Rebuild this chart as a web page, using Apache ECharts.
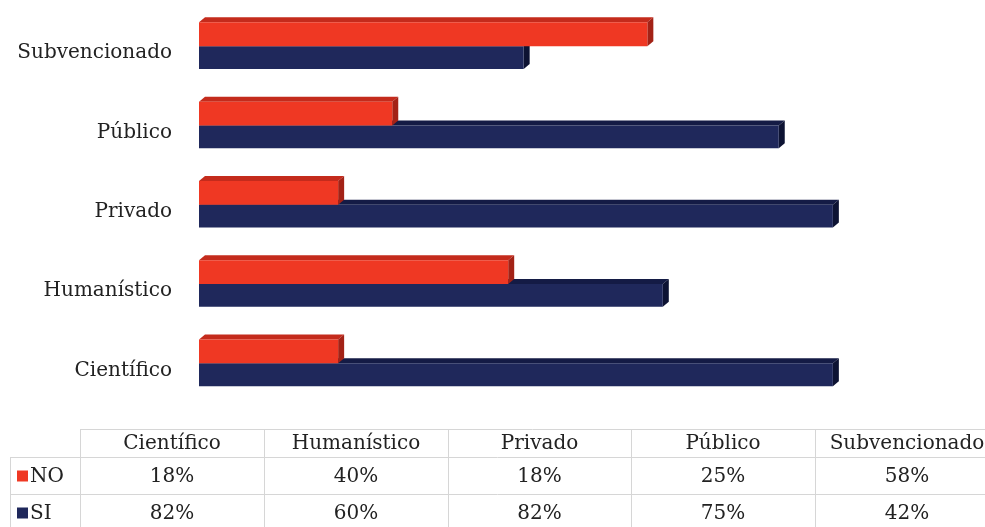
<!DOCTYPE html>
<html>
<head>
<meta charset="utf-8">
<script src="https://cdn.jsdelivr.net/npm/echarts@6/dist/echarts.min.js"></script>
<style>
html,body{margin:0;padding:0;background:#fff;}
#main{width:985px;height:527px;}
</style>
</head>
<body>
<div id="main"></div>
<script>
const categories = ['Científico', 'Humanístico', 'Privado', 'Público', 'Subvencionado'];
const noValues = [18, 40, 18, 25, 58];
const siValues = [82, 60, 82, 75, 42];
const seriesNames = ['NO', 'SI'];

const FONT = '"DejaVu Serif", serif';
const TXT = '#222222';
const colors = {
  NO: { front: '#EF3823', top: '#C42B1C', side: '#A32216' },
  SI: { front: '#1F285B', top: '#141B45', side: '#0D1333' }
};

function makeRender(name, upper) {
  const c = colors[name];
  return function (params, api) {
    const val = api.value(0);
    const cat = api.value(1);
    const p0 = api.coord([0, cat]);
    const p1 = api.coord([val, cat]);
    const band = api.size([0, 1])[1];
    const t = band * 0.3;
    const dx = 6, dy = 5;
    const x0 = p0[0], x1 = p1[0];
    let y0, y1;
    if (upper) { y0 = p0[1] - t; y1 = p0[1]; }
    else { y0 = p0[1]; y1 = p0[1] + t - 1; }
    return {
      type: 'group',
      children: [
        { type: 'polygon', shape: { points: [[x0, y0], [x0 + dx, y0 - dy], [x1 + dx, y0 - dy], [x1, y0]] }, style: { fill: c.top } },
        { type: 'polygon', shape: { points: [[x1, y0], [x1 + dx, y0 - dy], [x1 + dx, y1 - dy], [x1, y1]] }, style: { fill: c.side } },
        { type: 'rect', shape: { x: x0, y: y0, width: x1 - x0, height: y1 - y0 }, style: { fill: c.front } }
      ]
    };
  };
}

// Table built from the arrays
const colX = [80, 264, 448, 631, 815, 999];
const rowY = [429, 457, 494, 531];
const graphic = [];
const lineStyle = { stroke: '#d6d6d6', lineWidth: 1 };
graphic.push({ type: 'line', shape: { x1: 80, y1: rowY[0] + 0.5, x2: 985, y2: rowY[0] + 0.5 }, style: lineStyle });
graphic.push({ type: 'line', shape: { x1: 10, y1: rowY[1] + 0.5, x2: 985, y2: rowY[1] + 0.5 }, style: lineStyle });
graphic.push({ type: 'line', shape: { x1: 10, y1: rowY[2] + 0.5, x2: 985, y2: rowY[2] + 0.5 }, style: lineStyle });
graphic.push({ type: 'line', shape: { x1: 10.5, y1: rowY[1], x2: 10.5, y2: 527 }, style: lineStyle });
colX.forEach(function (x) {
  graphic.push({ type: 'line', shape: { x1: x + 0.5, y1: rowY[0], x2: x + 0.5, y2: 527 }, style: lineStyle });
});
categories.forEach(function (cat, i) {
  const cx = (colX[i] + colX[i + 1]) / 2;
  graphic.push({ type: 'text', style: { text: cat, x: cx, y: (rowY[0] + rowY[1]) / 2 + 1, align: 'center', verticalAlign: 'middle', font: '20px ' + FONT, fill: TXT } });
  graphic.push({ type: 'text', style: { text: noValues[i] + '%', x: cx, y: (rowY[1] + rowY[2]) / 2 + 1, align: 'center', verticalAlign: 'middle', font: '20px ' + FONT, fill: TXT } });
  graphic.push({ type: 'text', style: { text: siValues[i] + '%', x: cx, y: (rowY[2] + rowY[3]) / 2 + 1, align: 'center', verticalAlign: 'middle', font: '20px ' + FONT, fill: TXT } });
});
seriesNames.forEach(function (n, r) {
  const cy = (rowY[r + 1] + rowY[r + 2]) / 2 + 1;
  graphic.push({ type: 'rect', shape: { x: 17, y: cy - 6, width: 11, height: 11 }, style: { fill: colors[n].front } });
  graphic.push({ type: 'text', style: { text: n, x: 30, y: cy, align: 'left', verticalAlign: 'middle', font: '20px ' + FONT, fill: TXT } });
});

const chart = echarts.init(document.getElementById('main'));
chart.setOption({
  animation: false,
  backgroundColor: '#fff',
  grid: { left: 199, right: 13, top: 6.5, height: 396.5 },
  xAxis: { type: 'value', min: 0, max: 100, show: false },
  yAxis: {
    type: 'category',
    data: categories,
    axisLine: { show: false },
    axisTick: { show: false },
    axisLabel: { margin: 27, color: TXT, fontFamily: FONT, fontSize: 20, verticalAlign: 'top', lineHeight: 14 }
  },
  series: [
    { type: 'custom', name: 'SI', renderItem: makeRender('SI', false), encode: { x: 0, y: 1 },
      data: siValues.map(function (v, i) { return [v, i]; }) },
    { type: 'custom', name: 'NO', renderItem: makeRender('NO', true), encode: { x: 0, y: 1 },
      data: noValues.map(function (v, i) { return [v, i]; }) }
  ],
  graphic: graphic
});
</script>
</body>
</html>
